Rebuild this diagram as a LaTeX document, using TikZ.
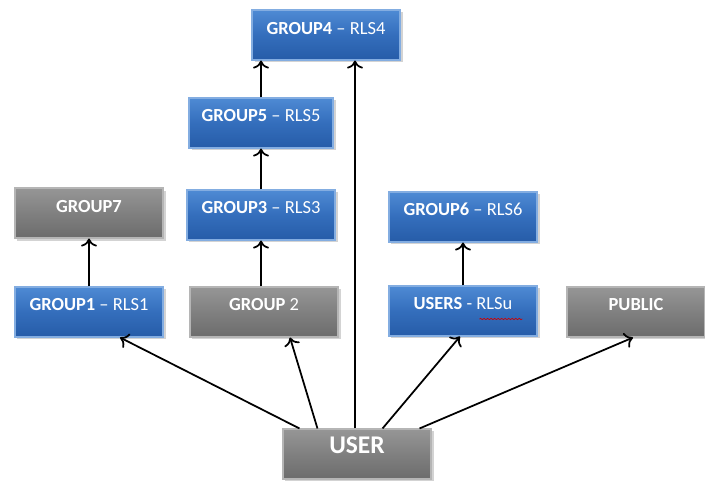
\documentclass[tikz,border=0pt]{standalone}
\usepackage{fontspec}
\setmainfont{Carlito}
\usetikzlibrary{arrows.meta,shadows,decorations.pathmorphing}

\definecolor{boxblue}{RGB}{52,110,188}
\definecolor{boxbluetop}{RGB}{78,138,212}
\definecolor{boxbluebot}{RGB}{38,92,168}
\definecolor{boxgray}{RGB}{128,128,128}
\definecolor{boxgraytop}{RGB}{150,150,150}
\definecolor{boxgraybot}{RGB}{108,108,108}

\begin{document}
\begin{tikzpicture}[
    grp/.style={rectangle, minimum width=2.96cm, minimum height=1cm,
      text=white, font=\fontsize{10.5}{12}\selectfont,
      text height=0.27cm, text depth=0.31cm,
      drop shadow={opacity=0.35, shadow xshift=0.05cm, shadow yshift=-0.05cm}},
    bluebox/.style={grp, draw=boxbluetop!70!white, line width=0.6pt,
      top color=boxbluetop, bottom color=boxbluebot, middle color=boxblue},
    graybox/.style={grp, draw=boxgraytop!70!white, line width=0.6pt,
      top color=boxgraytop, bottom color=boxgraybot, middle color=boxgray},
    link/.style={-{To[length=1.6mm, width=3.2mm, line width=1pt]}, line width=1pt, black}
  ]
  \useasboundingbox (0,0) rectangle (14.1,9.66);

  % upper chain
  \node[bluebox] (G4) at (6.52, 8.96) {\textbf{GROUP4} -- RLS4};
  \node[bluebox, minimum width=2.88cm] (G5) at (5.22, 7.20) {\textbf{GROUP5} -- RLS5};
  \node[bluebox] (G3) at (5.22, 5.36) {\textbf{GROUP3} -- RLS3};
  \node[graybox] (G7) at (1.78, 5.40) {\textbf{GROUP7}};
  \node[bluebox] (G6) at (9.26, 5.32) {\textbf{GROUP6} -- RLS6};

  % middle row
  \node[bluebox] (G1) at (1.78, 3.42) {\textbf{GROUP1} -- RLS1};
  \node[graybox] (G2) at (5.28, 3.42) {\textbf{GROUP} 2};
  \node[bluebox] (US) at (9.26, 3.44) {\textbf{USERS} - RLSu};
  \node[graybox, minimum width=2.76cm] (PUB) at (12.72, 3.42) {\textbf{PUBLIC}};

  % user
  \node[graybox, font=\fontsize{14.5}{16}\selectfont, text height=0.36cm, text depth=0.36cm] (USER) at (7.14, 0.58) {\textbf{USER}};

  % spell check mark
  \draw[red!80!black, line width=0.4pt, decorate,
    decoration={snake, amplitude=0.35pt, segment length=2pt}]
    ([xshift=0.33cm, yshift=-0.16cm]US.center) -- ++(0.86,0);

  \draw[link] (G1.north) -- (G7.south);
  \draw[link] (G2.north -| G3.south) -- (G3.south);
  \draw[link] (G3.north) -- (G5.south);
  \draw[link] (G5.north) -- (G5.north |- G4.south);
  \draw[link] (US.north) -- (G6.south);

  \draw[link] ([xshift=0.34cm]USER.north west) -- ([xshift=0.62cm]G1.south);
  \draw[link] ([xshift=0.70cm]USER.north west) -- ([xshift=0.52cm]G2.south);
  \draw[link] ([xshift=-0.04cm]USER.north) -- ([xshift=-0.04cm]USER.north |- G4.south);
  \draw[link] ([xshift=-0.98cm]USER.north east) -- ([xshift=-0.06cm]US.south);
  \draw[link] ([xshift=-0.24cm]USER.north east) -- ([xshift=-0.06cm]PUB.south);
\end{tikzpicture}
\end{document}
